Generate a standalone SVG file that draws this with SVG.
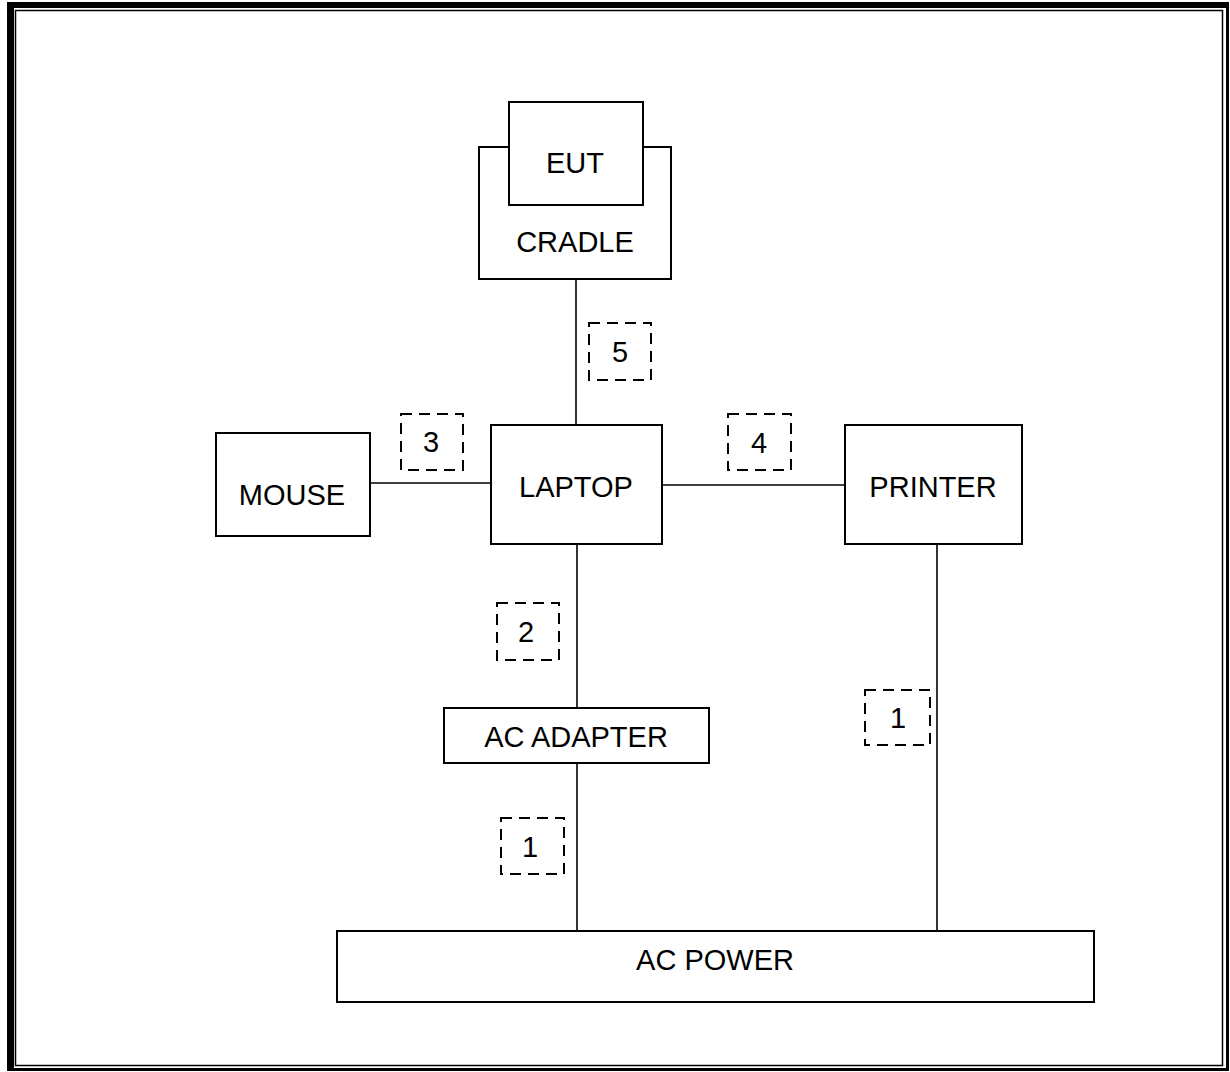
<svg xmlns="http://www.w3.org/2000/svg" width="1230" height="1072" viewBox="0 0 1230 1072">
<style>
.box{fill:#fff;stroke:#000;stroke-width:2}
.lbl{fill:#fff;stroke:#000;stroke-width:2;stroke-dasharray:11 7}
.ln{stroke:#000;stroke-width:1.6;fill:none}
text{font-family:"Liberation Sans",Arial,sans-serif;font-size:29px;fill:#000;text-anchor:middle}
</style>
<rect x="0" y="0" width="1230" height="1072" fill="#fff"/>
<g id="frame">
<rect x="7" y="2" width="1222" height="1069" fill="#000"/>
<rect x="14" y="8" width="1212" height="1060" fill="#fff"/>
<rect x="15.5" y="10.5" width="1207" height="1055" fill="none" stroke="#000" stroke-width="1.5"/>
</g>
<g id="connectors">
<line class="ln" x1="576" y1="279" x2="576" y2="425"/>
<line class="ln" x1="370" y1="483" x2="491" y2="483"/>
<line class="ln" x1="662" y1="485" x2="845" y2="485"/>
<line class="ln" x1="577" y1="544" x2="577" y2="708"/>
<line class="ln" x1="577" y1="763" x2="577" y2="931"/>
<line class="ln" x1="937" y1="544" x2="937" y2="931"/>
</g>
<g id="cradle"><rect class="box" x="479" y="147" width="192" height="132"/><text x="575" y="252">CRADLE</text></g>
<g id="eut"><rect class="box" x="509" y="102" width="134" height="103"/><text x="575" y="173">EUT</text></g>
<g id="mouse"><rect class="box" x="216" y="433" width="154" height="103"/><text x="292" y="505">MOUSE</text></g>
<g id="laptop"><rect class="box" x="491" y="425" width="171" height="119"/><text x="576" y="497">LAPTOP</text></g>
<g id="printer"><rect class="box" x="845" y="425" width="177" height="119"/><text x="933" y="497">PRINTER</text></g>
<g id="acadapter"><rect class="box" x="444" y="708" width="265" height="55"/><text x="576" y="747">AC ADAPTER</text></g>
<g id="acpower"><rect class="box" x="337" y="931" width="757" height="71"/><text x="715" y="970">AC POWER</text></g>
<g id="label5"><rect class="lbl" x="589" y="323" width="62" height="57"/><text x="620" y="362">5</text></g>
<g id="label3"><rect class="lbl" x="401" y="414" width="62" height="56"/><text x="431" y="452">3</text></g>
<g id="label4"><rect class="lbl" x="728" y="414" width="63" height="56"/><text x="759" y="453">4</text></g>
<g id="label2"><rect class="lbl" x="497" y="603" width="62" height="57"/><text x="526" y="642">2</text></g>
<g id="label1a"><rect class="lbl" x="501" y="818" width="63" height="56"/><text x="530" y="857">1</text></g>
<g id="label1b"><rect class="lbl" x="865" y="690" width="65" height="55"/><text x="898" y="728">1</text></g>
</svg>
